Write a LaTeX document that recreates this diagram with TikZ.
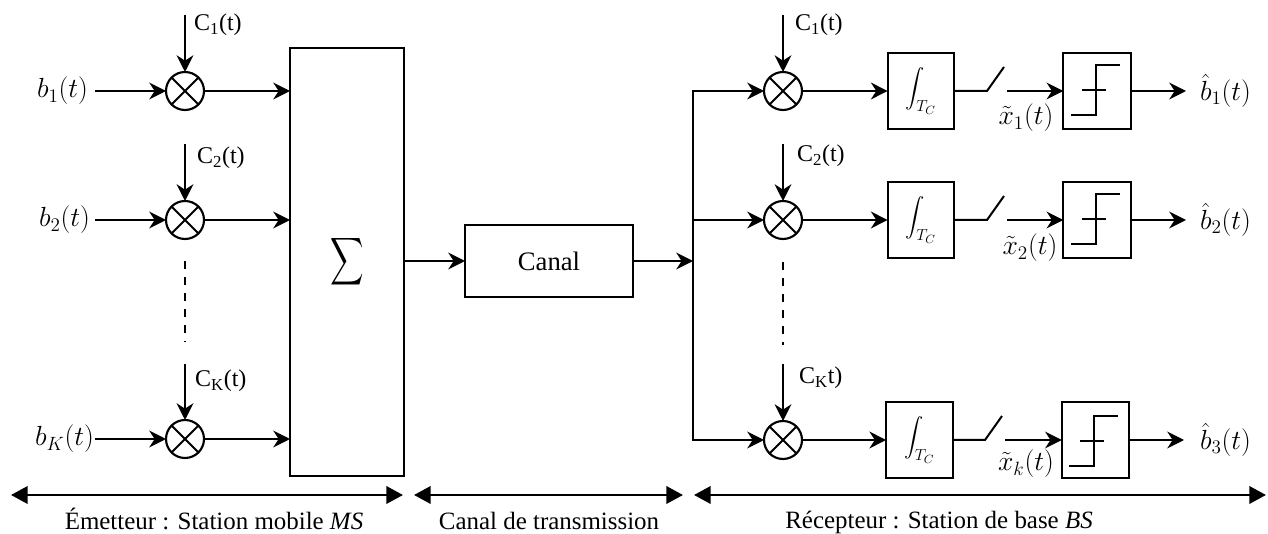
\documentclass[tikz,border=0pt]{standalone}
\usepackage{fontspec}
\usepackage{amsmath}
\usepackage{graphicx}
\setmainfont{Liberation Serif}
\usetikzlibrary{arrows.meta,calc}
\tikzset{
  x=0.75pt,y=-0.75pt,
  every node/.style={inner sep=0pt,outer sep=0pt,font=\fontsize{18}{21}\selectfont},
  wire/.style={line width=1.9pt,-{Stealth[length=12.5pt,width=12.5pt,inset=4pt]}},
  both/.style={line width=2pt,{Triangle[length=12.5pt,width=13pt]}-{Triangle[length=12.5pt,width=13pt]}},
  plain/.style={line width=1.5pt},
  bus/.style={line width=1.9pt},
  mixer/.style={circle,draw,line width=1.6pt,minimum size=28.5pt,
    path picture={\draw[line width=1.4pt] (path picture bounding box.south west)--(path picture bounding box.north east)
      (path picture bounding box.north west)--(path picture bounding box.south east);}},
  blockbox/.style={rectangle,draw,line width=1.5pt},
  intbox/.style={blockbox,minimum width=50pt,minimum height=57pt},
  decbox/.style={blockbox,minimum width=50.5pt,minimum height=57pt},
  mathlab/.style={font=\fontsize{20}{23}\selectfont},
  caption/.style={anchor=base,font=\fontsize{18.7}{22}\selectfont},
  dots/.style={line width=1.6pt,dash pattern=on 6pt off 6pt},
}
\newcommand{\intsym}[1]{\fontsize{15.5}{18}\selectfont$\displaystyle\int_{\mbox{\fontsize{13}{15}\selectfont$#1$}}$}
\begin{document}
\begin{tikzpicture}
\useasboundingbox (0,0) rectangle (1268,534);
% left mixers
\node[mixer] (m1) at (185,91) {};
\node[mixer] (m2) at (185,220) {};
\node[mixer] (m3) at (185,439) {};
% inputs
\node[mathlab,anchor=east] (b1) at (88,91) {$b_1(t)$};
\node[mathlab,anchor=east] (b2) at (90,220) {$b_2(t)$};
\node[mathlab,anchor=east] (b3) at (94,439) {$b_K(t)$};
\coordinate (i1) at (95,91); \coordinate (i2) at (95,220); \coordinate (i3) at (95,439);
\draw[wire] (i1) -- (m1.west);
\draw[wire] (i2) -- (m2.west);
\draw[wire] (i3) -- (m3.west);
% codes
\coordinate (c1) at (185,15); \coordinate (c2) at (185,144); \coordinate (c3) at (185,364);
\draw[wire] (c1) -- (m1.north);
\draw[wire] (c2) -- (m2.north);
\draw[wire] (c3) -- (m3.north);
\node[anchor=west] (lc1) at (194,25) {C\textsubscript{1}(t)};
\node[anchor=west] (lc2) at (197,158) {C\textsubscript{2}(t)};
\node[anchor=west] (lc3) at (195,381) {C\textsubscript{K}(t)};
\coordinate (d1) at (185,261); \coordinate (d2) at (185,342);
\draw[dots] (d1) -- (d2);
% sum
\node[blockbox,minimum width=85.5pt,minimum height=321pt] (sum) at (347,262) {\raisebox{6.4pt}{\scalebox{0.7}[1]{\fontsize{25}{30}\selectfont$\displaystyle\sum$}}};
\draw[wire] (m1.east) -- (sum.west |- m1);
\draw[wire] (m2.east) -- (sum.west |- m2);
\draw[wire] (m3.east) -- (sum.west |- m3);
% channel
\node[blockbox,minimum width=126pt,minimum height=54pt,font=\fontsize{20}{24}\selectfont] (canal) at (549,261) {Canal};
\draw[wire] (sum.east |- canal) -- (canal.west);
\coordinate (jc) at (693,261);
\draw[wire] (canal.east) -- (jc);
% receiver
\node[mixer] (r1) at (783,91) {};
\node[mixer] (r2) at (783,220) {};
\node[mixer] (r3) at (783,440) {};
\coordinate (j1) at (693,91); \coordinate (j2) at (693,220); \coordinate (j3) at (693,440);
\draw[bus] ($(j1)+(0,-1)$) -- ($(j3)+(0,1)$);
\draw[wire] (j1) -- (r1.west);
\draw[wire] (j2) -- (r2.west);
\draw[wire] (j3) -- (r3.west);
\coordinate (e1) at (783,15); \coordinate (e2) at (783,144); \coordinate (e3) at (783,364);
\draw[wire] (e1) -- (r1.north);
\draw[wire] (e2) -- (r2.north);
\draw[wire] (e3) -- (r3.north);
\node[anchor=west] (lr1) at (795,25) {C\textsubscript{1}(t)};
\node[anchor=west] (lr2) at (797,156) {C\textsubscript{2}(t)};
\node[anchor=west] (lr3) at (799,378) {C\textsubscript{K}t)};
\coordinate (f1) at (783,262); \coordinate (f2) at (783,345);
\draw[dots] (f1) -- (f2);
% integrators
\node[intbox] (int1) at (921,91) {\intsym{T_C}};
\node[intbox] (int2) at (921,220) {\intsym{T_C}};
\node[intbox] (int3) at (919.5,440) {\intsym{T_C}};
\draw[wire] (r1.east) -- (int1.west);
\draw[wire] (r2.east) -- (int2.west);
\draw[wire] (r3.east) -- (int3.west);
% decision boxes
\node[decbox] (dec1) at (1097,91) {};
\node[decbox] (dec2) at (1097,220) {};
\node[decbox] (dec3) at (1095.5,440) {};
\foreach \n/\xo/\yo in {dec1/0/0,dec2/0/129,dec3/-2/351}{
  \draw[plain] (1071+\xo,115+\yo) -- (1096+\xo,115+\yo) -- (1096+\xo,65+\yo) -- (1120+\xo,65+\yo);
  \draw[plain] (1082+\xo,90+\yo) -- (1106+\xo,90+\yo);
}
% switches
\coordinate (s1) at (987,91); \coordinate (t1) at (1004,67); \coordinate (a1) at (1007,91);
\coordinate (s2) at (987,220); \coordinate (t2) at (1004,196); \coordinate (a2) at (1007,220);
\coordinate (s3) at (985,440); \coordinate (t3) at (1002,416); \coordinate (a3) at (1005,440);
\draw[plain] (int1.east) -- (s1) -- (t1);
\draw[plain] (int2.east) -- (s2) -- (t2);
\draw[plain] (int3.east) -- (s3) -- (t3);
\draw[wire] (a1) -- (dec1.west);
\draw[wire] (a2) -- (dec2.west);
\draw[wire] (a3) -- (dec3.west);
\node[mathlab] (x1) at (1026,118) {$\tilde{x}_1(t)$};
\node[mathlab] (x2) at (1030,248) {$\tilde{x}_2(t)$};
\node[mathlab] (x3) at (1026,464) {$\tilde{x}_k(t)$};
% outputs
\node[mathlab,anchor=west] (o1) at (1200,91) {$\hat{b}_1(t)$};
\node[mathlab,anchor=west] (o2) at (1200,220) {$\hat{b}_2(t)$};
\node[mathlab,anchor=west] (o3) at (1200,440) {$\hat{b}_3(t)$};
\coordinate (p1) at (1186,91); \coordinate (p2) at (1186,220); \coordinate (p3) at (1184,440);
\draw[wire] (dec1.east) -- (p1);
\draw[wire] (dec2.east) -- (p2);
\draw[wire] (dec3.east) -- (p3);
% spans
\coordinate (g1) at (11,495); \coordinate (g2) at (403,495);
\coordinate (g3) at (414,495); \coordinate (g4) at (683,495);
\coordinate (g5) at (694,495); \coordinate (g6) at (1266,495);
\draw[both] (g1) -- (g2);
\draw[both] (g3) -- (g4);
\draw[both] (g5) -- (g6);
\node[caption] (t1l) at (214,529) {Émetteur : Station mobile \textit{MS}};
\node[caption] (t2l) at (549,530) {Canal de transmission};
\node[caption] (t3l) at (939,528) {Récepteur : Station de base \textit{BS}};
\end{tikzpicture}
\end{document}
